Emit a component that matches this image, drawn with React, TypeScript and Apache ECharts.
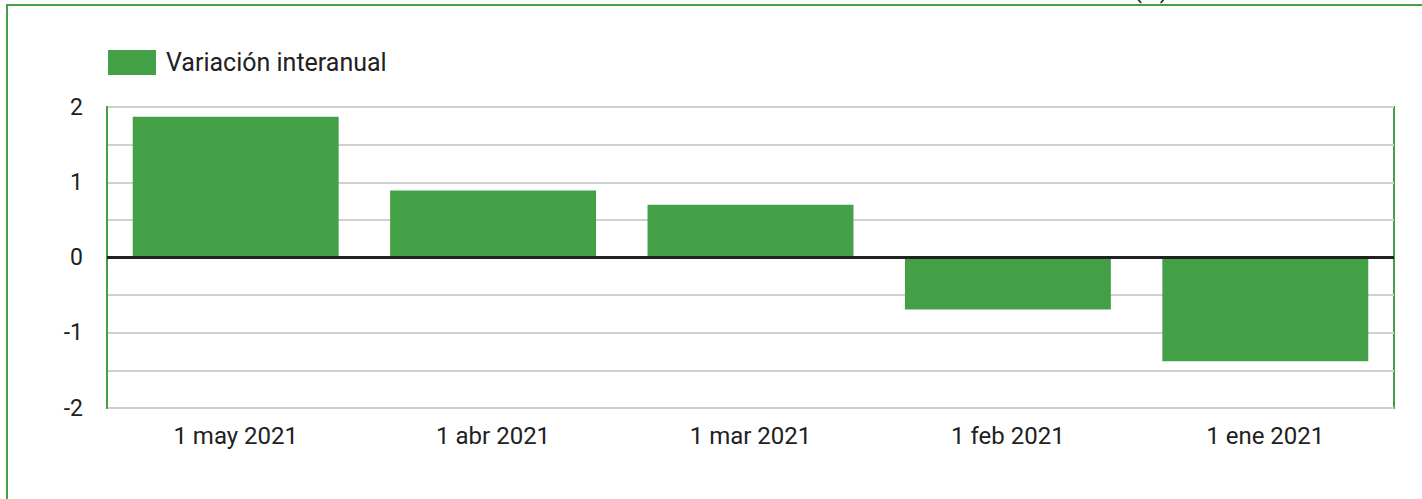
import React, { useEffect, useRef } from "react";
import * as echarts from "echarts";

const categories = ["1 may 2021", "1 abr 2021", "1 mar 2021", "1 feb 2021", "1 ene 2021"];
const values = [1.87, 0.89, 0.7, -0.69, -1.38];
const seriesName = "Variación interanual";
const unitLabel = "(%)";

export default function App() {
  const ref = useRef<HTMLDivElement>(null);
  useEffect(() => {
    if (!ref.current) return;
    const chart = echarts.init(ref.current, undefined, { renderer: "svg" });
    chart.setOption({
      animation: false,
      textStyle: { fontFamily: "Roboto" },
      legend: {
        left: 108,
        top: 50,
        padding: 0,
        itemWidth: 48,
        itemHeight: 25,
        icon: "rect",
        textStyle: { fontSize: 25, color: "#212121", fontFamily: "Roboto", padding: [0, 0, 0, 5] },
        data: [seriesName],
      },
      graphic: [
        {
          type: "rect",
          shape: { x: 7, y: 5, width: 1500, height: 600 },
          style: { fill: "none", stroke: "#43a047", lineWidth: 2 },
          silent: true,
        },
        {
          type: "text",
          x: 1168,
          y: 2,
          style: {
            text: unitLabel,
            fontSize: 24,
            fontFamily: "Roboto",
            fill: "#212121",
            textAlign: "right",
            textVerticalAlign: "bottom",
          },
        },
      ],
      grid: {
        left: 107,
        right: 28,
        top: 107,
        bottom: 91,
        show: true,
        borderColor: "#43a047",
        borderWidth: 2,
      },
      xAxis: {
        type: "category",
        data: categories,
        axisLine: { show: false, onZero: false },
        axisTick: { show: false },
        axisLabel: { fontSize: 24, color: "#212121", margin: 16, fontFamily: "Roboto" },
      },
      yAxis: {
        type: "value",
        min: -2,
        max: 2,
        interval: 0.5,
        axisLine: { show: true, lineStyle: { color: "#43a047", width: 2 } },
        axisTick: { show: false },
        splitLine: { show: true, lineStyle: { color: "#d0d0d0", width: 2 } },
        axisLabel: {
          fontSize: 23,
          color: "#212121",
          margin: 24,
          fontFamily: "Roboto",
          formatter: (v: number) => (Number.isInteger(v) ? String(v) : ""),
        },
      },
      series: [
        {
          name: seriesName,
          type: "bar",
          data: values,
          barCategoryGap: "20%",
          itemStyle: { color: "#43a047" },
          markLine: {
            silent: true,
            symbol: "none",
            label: { show: false },
            lineStyle: { color: "#212121", width: 3, type: "solid" },
            data: [{ yAxis: 0 }],
          },
        },
      ],
    });
    return () => chart.dispose();
  }, []);
  return (
    <div
      ref={ref}
      style={{ position: "fixed", left: 0, top: 0, width: 1422, height: 499, background: "#fff" }}
    />
  );
}
